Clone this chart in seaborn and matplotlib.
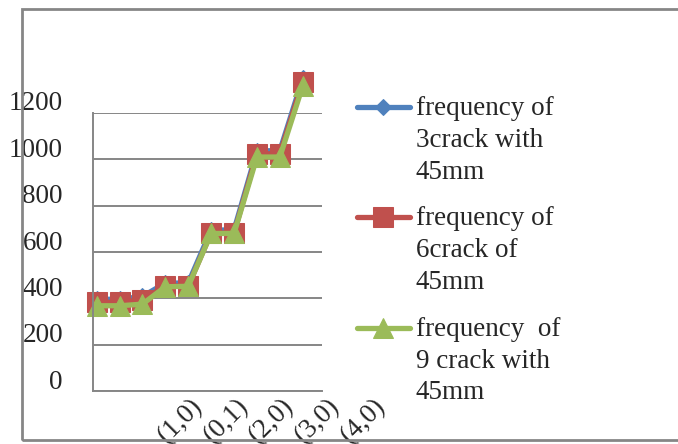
import pandas as pd
import matplotlib.pyplot as plt
import seaborn as sns
from matplotlib.transforms import ScaledTranslation
from matplotlib.patches import Rectangle

# values (10 points per series)
points = list(range(10))
crack3 = [396, 396, 408, 466, 466, 695, 695, 1037, 1037, 1350]
crack6 = [383, 383, 394, 453, 453, 682, 682, 1024, 1024, 1335]
crack9 = [368, 368, 375, 450, 452, 680, 680, 1010, 1010, 1317]
series_labels = ["frequency of\n3crack with\n45mm",
                 "frequency of\n6crack of\n45mm",
                 "frequency  of\n9 crack with\n45mm"]
tick_pos = [0, 2, 4, 6, 8]
tick_labels = ["(1,0)", "(0,1)", "(2,0)", "(3,0)", "(4,0)"]
y_ticks = [0, 200, 400, 600, 800, 1000, 1200]

sns.set_style("white")
plt.rcParams["font.family"] = ["Liberation Serif", "DejaVu Serif"]
grey = "#868686"
fs = 19.5

fig = plt.figure(figsize=(6.78, 4.44), dpi=100)
ax = fig.add_axes([92.7 / 678, 53 / 444, 229.3 / 678, 278 / 444])

styles = [
    (crack3, "#4F81BD", "D", 8.5),
    (crack6, "#C0504D", "s", 14),
    (crack9, "#9BBB59", "^", 14),
]
for (vals, color, marker, ms), lab in zip(styles, series_labels):
    sns.lineplot(x=points, y=vals, ax=ax, color=color, marker=marker,
                 markersize=ms, mec=color, mfc=color, lw=3.8,
                 label=lab, clip_on=False)

ax.set_xlim(-0.17, 9.84)
ax.set_ylim(0, 1200)
ax.set_xlabel("")
ax.set_ylabel("")

ax.yaxis.grid(True, color=grey, lw=1.4)
ax.xaxis.grid(False)
for side in ["top", "right"]:
    ax.spines[side].set_visible(False)
for side in ["left", "bottom"]:
    ax.spines[side].set_color(grey)
    ax.spines[side].set_linewidth(1.4)

# y labels sit a bit above their gridlines, like the original
ax.set_yticks(y_ticks)
ax.tick_params(axis="y", length=0, pad=21.4, labelsize=fs)
for lbl in ax.get_yticklabels():
    lbl.set_transform(lbl.get_transform() + ScaledTranslation(0, 0.12, fig.dpi_scale_trans))

# x labels: every other point, rotated and pushed right
ax.set_xticks(tick_pos, tick_labels)
ax.tick_params(axis="x", length=0, pad=8.5, labelsize=fs)
for lbl in ax.get_xticklabels():
    lbl.set_rotation(45)
    lbl.set_ha("right")
    lbl.set_va("center")
    lbl.set_rotation_mode("anchor")
    lbl.set_transform(lbl.get_transform() + ScaledTranslation(1.02, 0, fig.dpi_scale_trans))

handles, labels = ax.get_legend_handles_labels()
ax.get_legend().remove()
leg = fig.legend(handles, labels, loc="upper left",
                 bbox_to_anchor=(357 / 678, 348 / 444), frameon=False,
                 fontsize=fs, handlelength=1.95, handletextpad=0.22,
                 handleheight=1.1, borderpad=0, borderaxespad=0,
                 labelspacing=0.8)
for t in leg.get_texts():
    t.set_linespacing(1.36)
# put the marker beside the first line of each label
for col in leg._legend_handle_box.get_children():
    for item in col.get_children():
        item.align = "top"

# chart area border
fig.add_artist(Rectangle((22 / 678, 4 / 444), 1.0, 431 / 444, fill=False,
                         edgecolor=grey, lw=2.0, transform=fig.transFigure))

plt.savefig("out.png", dpi=100)
